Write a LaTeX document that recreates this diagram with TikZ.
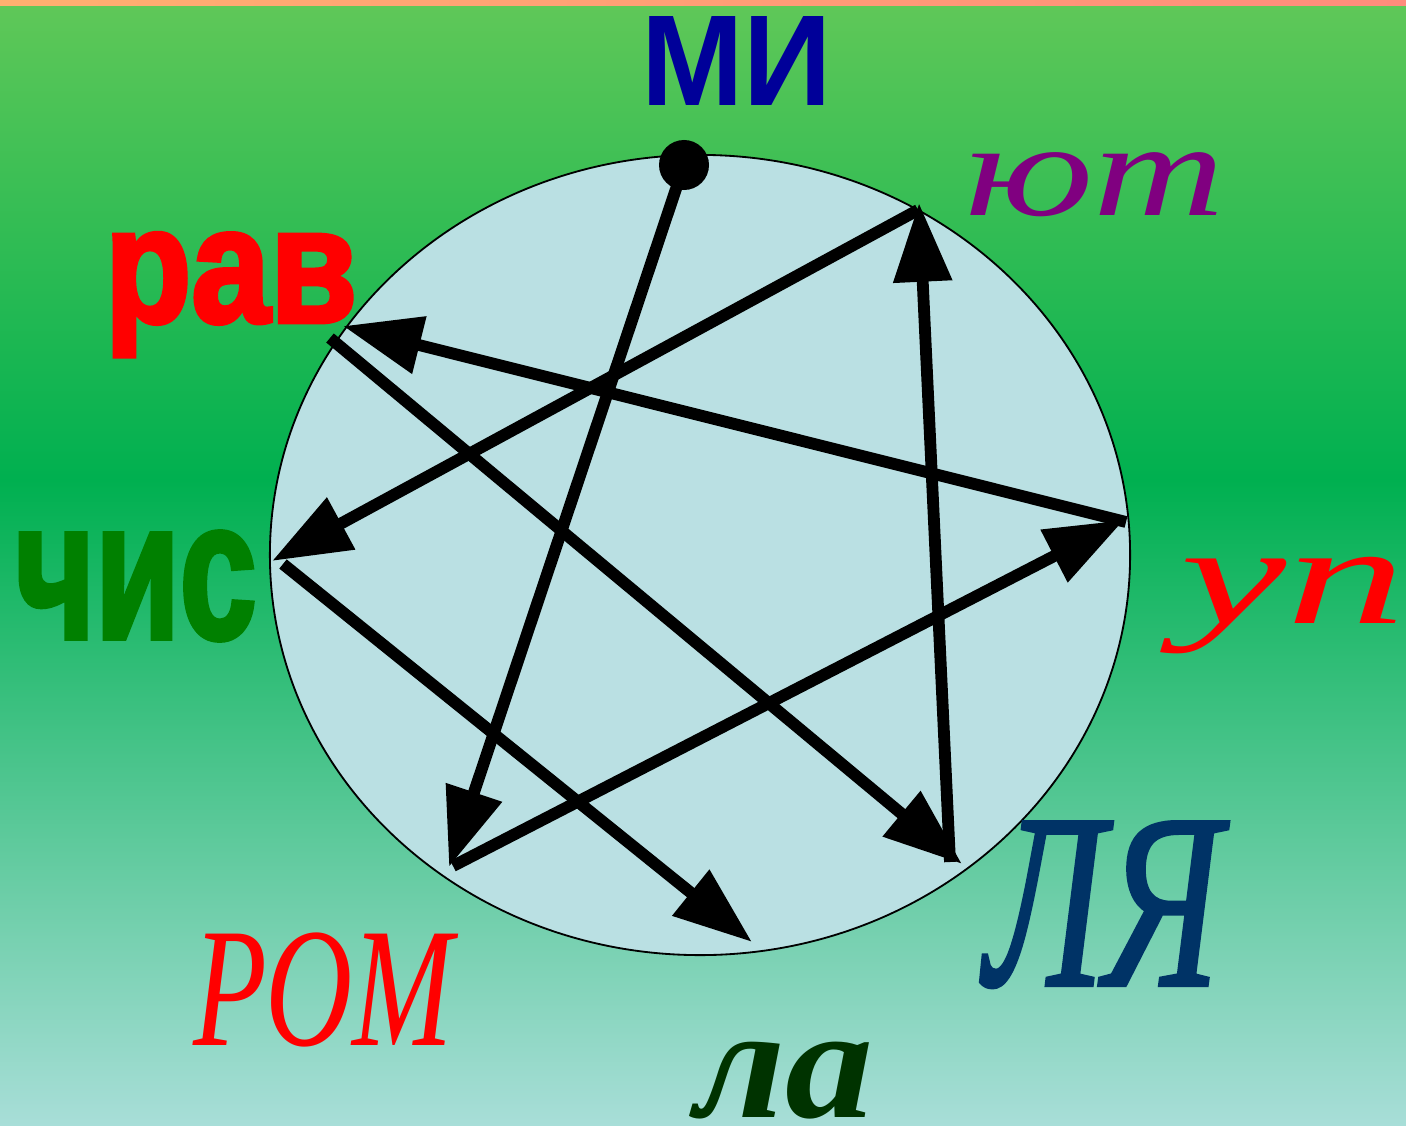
\documentclass[tikz,border=0pt]{standalone}
\usepackage{fontspec}
\usepackage{graphicx}
\setmainfont{Liberation Serif}
\newfontfamily\sansb{Liberation Sans}
\newfontfamily\heavy[FakeBold=3]{Liberation Sans}
\newfontfamily\medserif[FakeBold=1.6]{Liberation Serif}
\usetikzlibrary{arrows.meta,shapes.geometric}
\definecolor{bgtop}{HTML}{60C858}
\definecolor{bgmid}{HTML}{00B050}
\definecolor{bgbot}{HTML}{A8DED8}
\definecolor{stripL}{HTML}{FFB070}
\definecolor{stripM}{HTML}{FFFF60}
\definecolor{stripR}{HTML}{FF8C7C}
\definecolor{circfill}{HTML}{BAE0E3}
\definecolor{miblue}{HTML}{000099}
\definecolor{jutpurple}{HTML}{800080}
\definecolor{chisgreen}{HTML}{008000}
\definecolor{lyanavy}{HTML}{003366}
\definecolor{ladark}{HTML}{003300}
\tikzset{
  arr/.style={line width=8.4pt, black, -{Triangle[length=56pt,width=40pt]}},
  lbl/.style={inner sep=0pt, outer sep=0pt, anchor=base west},
}
\begin{document}
\begin{tikzpicture}[x=0.025cm,y=-0.025cm]
\useasboundingbox (0,0) rectangle (1406,1125);
% background
\shade[top color=bgtop, bottom color=bgmid] (0,0) rectangle (1406,481);
\shade[top color=bgmid, bottom color=bgbot] (0,480) rectangle (1406,1125);
\shade[left color=stripL, middle color=stripM, right color=stripR] (0,0) rectangle (1406,5);
% circle
\node[ellipse, draw=black, line width=1.3pt, fill=circfill, inner sep=0pt,
      minimum width=21.5cm, minimum height=20cm] (circ) at (700,555) {};
\node[circle, fill=black, inner sep=0pt, minimum size=1.25cm] (dot) at (684,165) {};
% end points
\coordinate (pR) at (449,867);
\coordinate (pRt) at (453,866);
\coordinate (pU) at (1124,520);
\coordinate (pUt) at (1126,522);
\coordinate (pRav) at (343,326);
\coordinate (pRavt) at (330,338);
\coordinate (pL) at (962,864);
\coordinate (pLt) at (950,862);
\coordinate (pJ) at (919,203);
\coordinate (pJt) at (918,210);
\coordinate (pC) at (272,561);
\coordinate (pCt) at (283,564);
\coordinate (pLa) at (752,942);
% arrows
\draw[arr] (dot.center) -- (pR);
\draw[arr] (pRt) -- (pU);
\draw[arr] (pUt) -- (pRav);
\draw[arr] (pRavt) -- (pL);
\draw[arr] (pLt) -- (pJ);
\draw[arr] (pJt) -- (pC);
\draw[arr] (pCt) -- (pLa);
% labels
\node[lbl, text=miblue] (mi) at (641,105) {\scalebox{0.95}[1]{\sansb\bfseries\fontsize{92}{92}\selectfont МИ}};
\node[lbl, text=jutpurple] (jut) at (965,215) {\scalebox{1.36}[1]{\itshape\fontsize{95}{95}\selectfont ют}};
\node[lbl, text=red] (rav) at (105,322) {\scalebox{0.86}[1]{\heavy\bfseries\fontsize{117}{117}\selectfont рав}};
\node[lbl, text=chisgreen] (chis) at (15,638) {\scalebox{0.7}[1]{\heavy\bfseries\fontsize{140}{140}\selectfont чис}};
\node[lbl, text=red] (up) at (1180,623) {\scalebox{1.7}[1]{\itshape\fontsize{100}{100}\selectfont уп}};
\node[lbl, text=red] (rom) at (193,1045) {\scalebox{0.71}[1]{\itshape\fontsize{121}{121}\selectfont РОМ}};
\node[lbl, text=lyanavy] (lya) at (985,985) {\scalebox{0.71}[1]{\medserif\itshape\fontsize{177}{177}\selectfont ЛЯ}};
\node[lbl, text=ladark] (la) at (695,1117) {\scalebox{1.1}[1]{\bfseries\itshape\fontsize{114}{114}\selectfont ла}};
\end{tikzpicture}
\end{document}
